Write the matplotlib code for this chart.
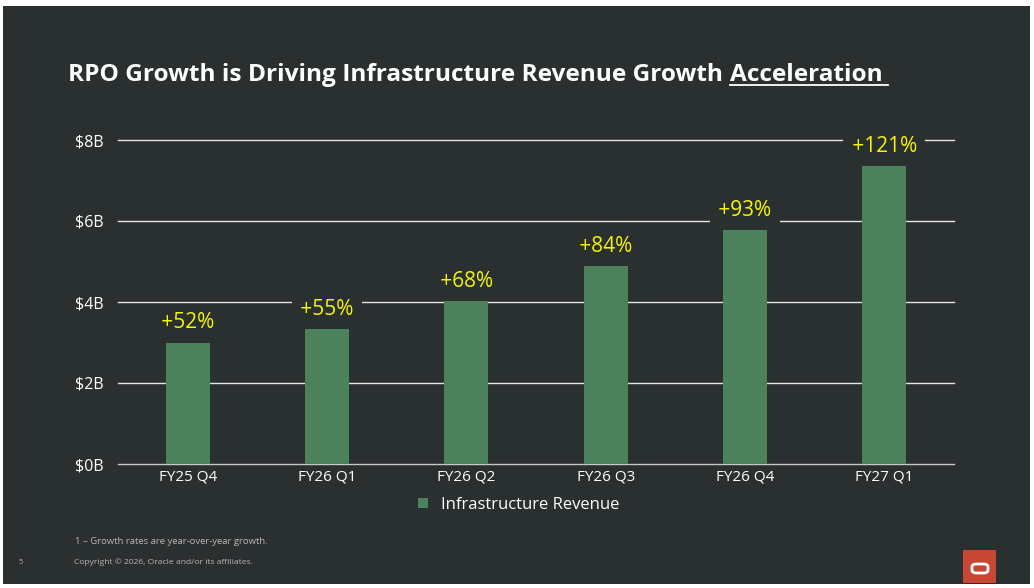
import matplotlib
matplotlib.use('Agg')
import matplotlib.pyplot as plt
from matplotlib.patches import Rectangle, FancyBboxPatch
from matplotlib.lines import Line2D

# datos
trimestres = ['FY25 Q4', 'FY26 Q1', 'FY26 Q2', 'FY26 Q3', 'FY26 Q4', 'FY27 Q1']
ingresos = [3.0, 3.34, 4.02, 4.89, 5.78, 7.36]   # $B
crecimiento = ['+52%', '+55%', '+68%', '+84%', '+93%', '+121%']
ticks_y = [0, 2, 4, 6, 8]
etiquetas_y = ['$0B', '$2B', '$4B', '$6B', '$8B']

FONDO = '#2a2f30'
VERDE = '#4b825c'
AMARILLO = '#f5f50a'
plt.rcParams['font.family'] = ['Open Sans', 'DejaVu Sans']

W, H = 1034, 588
fig = plt.figure(figsize=(W / 100, H / 100), dpi=100, facecolor='white')

def px(x, y):
    return x / W, 1 - y / H

# fondo oscuro de la diapositiva
fig.patches.append(Rectangle(px(3, 584), 1027 / W, 578 / H, transform=fig.transFigure,
                             facecolor=FONDO, edgecolor='none', zorder=-10))

l, b = px(118, 464)
r, t = px(954, 140)
ax = fig.add_axes([l, b, r - l, t - b])
ax.set_zorder(5)
ax.set_facecolor('none')
ax.set_xlim(-0.5, len(trimestres) - 0.5)
ax.set_ylim(0, 8)
for s in ax.spines.values():
    s.set_visible(False)

for v in ticks_y:
    ax.axhline(v, color='#e4e4e4' if v else '#c8c8c8', linewidth=1.0, zorder=1, clip_on=False)

x = list(range(len(trimestres)))
barras = ax.bar(x, ingresos, width=0.316, color=VERDE, zorder=2, label='Infrastructure Revenue')

# etiquetas de crecimiento con fondo que tapa la rejilla
for xi, v, txt in zip(x, ingresos, crecimiento):
    ax.annotate(' ' + txt + ' ', (xi, v), xytext=(0, 16), textcoords='offset points',
                ha='center', va='center_baseline', color=AMARILLO, fontsize=15,
                bbox=dict(boxstyle='square,pad=0.15', facecolor=FONDO, edgecolor='none'),
                zorder=4, annotation_clip=False)

ax.set_yticks(ticks_y)
ax.set_yticklabels(etiquetas_y, color='white', fontsize=11.5)
ax.set_xticks(x)
ax.set_xticklabels(trimestres, color='white', fontsize=11)
ax.tick_params(axis='y', length=0, pad=10)
ax.tick_params(axis='x', length=0, pad=4)

leg = ax.legend(handles=[Rectangle((0, 0), 1, 1, facecolor=VERDE)], labels=['Infrastructure Revenue'],
                loc='center', bbox_to_anchor=px(519, 505), bbox_transform=fig.transFigure,
                frameon=False, fontsize=12, handlelength=0.6, handleheight=0.6, handletextpad=0.8)
for tx in leg.get_texts():
    tx.set_color('white')

# título con subrayado en "Acceleration"
ren = fig.canvas.get_renderer()
t1 = fig.text(*px(68, 75), 'RPO Growth is Driving Infrastructure Revenue Growth', color='white',
              fontsize=17.6, fontweight='bold', va='center', ha='left')
bb = t1.get_window_extent(ren)
x2 = bb.x1 + 7
t2 = fig.text(x2 / W, t1.get_position()[1], 'Acceleration', color='white',
              fontsize=17.6, fontweight='bold', va='center', ha='left')
bb2 = t2.get_window_extent(ren)
fig.lines.append(Line2D([x2 / W, (bb2.x1 + 5) / W], [1 - 84.5 / H, 1 - 84.5 / H],
                        transform=fig.transFigure, color='white', linewidth=1.3))

# pie de página
fig.text(*px(75, 542), '1 – Growth rates are year-over-year growth.', color='#b8b8b8',
         fontsize=6.8, va='center', ha='left')
fig.text(*px(74, 562), 'Copyright © 2026, Oracle and/or its affiliates.', color='#b8b8b8',
         fontsize=6.1, va='center', ha='left')
fig.text(*px(21, 562), '5', color='#b8b8b8', fontsize=5.5, va='center', ha='center')

# logo
fig.patches.append(Rectangle(px(963, 583), 33 / W, 33 / H, transform=fig.transFigure,
                             facecolor='#c74634', edgecolor='none', zorder=1))
fig.patches.append(FancyBboxPatch(px(972, 573), 16 / W, 9 / H, transform=fig.transFigure,
                                  boxstyle='round,pad=0,rounding_size=0.0045',
                                  facecolor='none', edgecolor='white', linewidth=2, zorder=2))

fig.savefig('out.png', dpi=100, facecolor='white')
